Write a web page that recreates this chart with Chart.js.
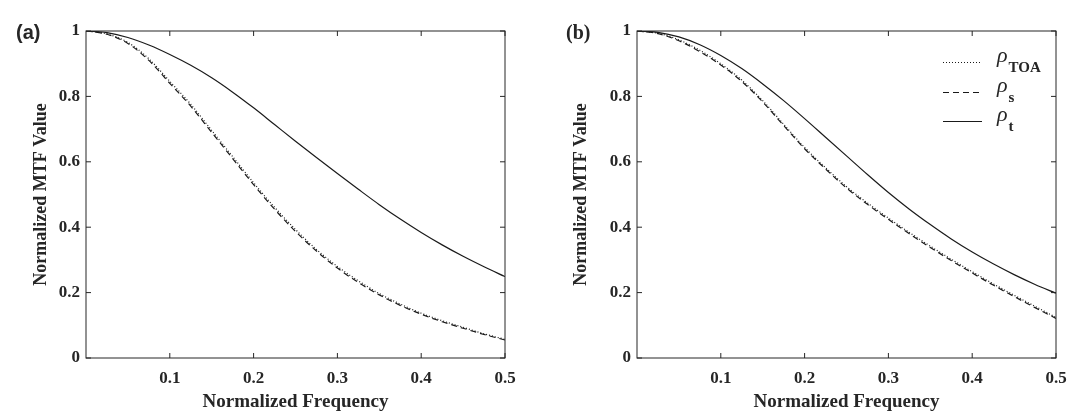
<!DOCTYPE html>
<html>
<head>
<meta charset="utf-8">
<script src="https://cdn.jsdelivr.net/npm/chart.js@4.4.1/dist/chart.umd.min.js"></script>
<style>
  html, body { margin: 0; padding: 0; background: #fff; }
  body { width: 1080px; height: 415px; position: relative; overflow: hidden; font-family: "Liberation Serif", "Times New Roman", serif; color: #262626; }
  .panel { position: absolute; top: 0; width: 540px; height: 415px; }
  .tag { position: absolute; top: 21px; font-size: 20px; font-weight: bold; }
  .legend { position: absolute; left: 943px; top: 0; }
  .row { position: absolute; left: 0; white-space: nowrap; }
  .row svg { position: absolute; left: 0; }
  .row .txt { position: absolute; left: 54px; font-size: 22px; line-height: 20px; font-style: italic; }
  .row sub { font-style: normal; font-weight: bold; font-size: 15px; line-height: 0; vertical-align: -10px; margin-left: 1px; }
</style>
</head>
<body>
<div class="panel" style="left:0"><canvas id="chartA" width="540" height="415"></canvas></div>
<div class="panel" style="left:540px"><canvas id="chartB" width="540" height="415"></canvas></div>
<span class="tag" style="left:16px;font-family:'Liberation Sans',Arial,sans-serif">(a)</span>
<span class="tag" style="left:566px">(b)</span>
<div class="legend" id="legend"></div>

<script>
// Datos
const freq = [0, 0.025, 0.05, 0.075, 0.1, 0.125, 0.15, 0.175, 0.2, 0.225, 0.25,
              0.275, 0.3, 0.325, 0.35, 0.375, 0.4, 0.425, 0.45, 0.475, 0.5];

// (a)
const aToa   = [1.0, 0.991, 0.965, 0.915, 0.846, 0.776, 0.696, 0.616, 0.536, 0.461, 0.393,
                0.332, 0.280, 0.236, 0.197, 0.165, 0.137, 0.114, 0.094, 0.074, 0.057];
const aSurf  = [1.0, 0.990, 0.962, 0.910, 0.840, 0.770, 0.690, 0.610, 0.530, 0.455, 0.387,
                0.327, 0.275, 0.231, 0.193, 0.161, 0.134, 0.111, 0.091, 0.072, 0.055];
const aTotal = [1.0, 0.995, 0.980, 0.957, 0.928, 0.895, 0.857, 0.813, 0.765, 0.714, 0.663,
                0.613, 0.564, 0.516, 0.469, 0.425, 0.384, 0.346, 0.311, 0.279, 0.249];

// (b)
const bToa   = [1.0, 0.993, 0.973, 0.941, 0.900, 0.850, 0.787, 0.715, 0.644, 0.582, 0.524,
                0.474, 0.428, 0.384, 0.342, 0.302, 0.264, 0.227, 0.192, 0.158, 0.124];
const bSurf  = [1.0, 0.992, 0.970, 0.937, 0.896, 0.846, 0.783, 0.711, 0.640, 0.578, 0.520,
                0.470, 0.424, 0.380, 0.338, 0.298, 0.260, 0.223, 0.188, 0.154, 0.121];
const bTotal = [1.0, 0.996, 0.982, 0.958, 0.925, 0.885, 0.838, 0.787, 0.732, 0.675, 0.618,
                0.561, 0.506, 0.455, 0.408, 0.364, 0.324, 0.288, 0.255, 0.225, 0.198];

const xTicks = [0.1, 0.2, 0.3, 0.4, 0.5];
const yTicks = [0, 0.2, 0.4, 0.6, 0.8, 1];
const seriesNames = ['TOA', 's', 't'];

const INK = '#262626';
const SERIF = '"Liberation Serif", "Times New Roman", serif';
const dashes = [[1, 2], [6, 4], []];

// caja con marcas hacia dentro (estilo MATLAB)
const boxTicks = {
  id: 'boxTicks',
  afterDraw(chart) {
    const { ctx, chartArea: ca, scales } = chart;
    const len = 5;
    ctx.save();
    ctx.strokeStyle = INK;
    ctx.lineWidth = 1;
    ctx.setLineDash([]);
    ctx.strokeRect(ca.left, ca.top, ca.right - ca.left, ca.bottom - ca.top);
    ctx.beginPath();
    scales.x.ticks.forEach(t => {
      const px = scales.x.getPixelForValue(t.value);
      ctx.moveTo(px, ca.bottom); ctx.lineTo(px, ca.bottom - len);
      ctx.moveTo(px, ca.top); ctx.lineTo(px, ca.top + len);
    });
    scales.y.ticks.forEach(t => {
      const py = scales.y.getPixelForValue(t.value);
      ctx.moveTo(ca.left, py); ctx.lineTo(ca.left + len, py);
      ctx.moveTo(ca.right, py); ctx.lineTo(ca.right - len, py);
    });
    ctx.stroke();
    ctx.restore();
  }
};

function makeChart(id, series, leftW, rightPad) {
  const datasets = series.map((vals, i) => ({
    label: seriesNames[i],
    data: freq.map((f, k) => ({ x: f, y: vals[k] })),
    borderColor: '#1a1a1a',
    borderWidth: 1.2,
    borderDash: dashes[i],
    pointRadius: 0,
    cubicInterpolationMode: 'monotone',
    fill: false
  }));

  return new Chart(document.getElementById(id), {
    type: 'line',
    data: { datasets },
    options: {
      responsive: false,
      animation: false,
      devicePixelRatio: 1,
      layout: { padding: { top: 31, right: rightPad, left: 0, bottom: 0 } },
      plugins: { legend: { display: false }, tooltip: { enabled: false } },
      scales: {
        x: {
          type: 'linear', min: 0, max: 0.5,
          afterBuildTicks: s => { s.ticks = xTicks.map(v => ({ value: v })); },
          afterFit: s => { s.height = 57; },
          grid: { display: false, drawTicks: false },
          border: { display: false },
          ticks: { color: INK, padding: 10, maxRotation: 0, font: { family: SERIF, size: 17, weight: 'bold' },
                   callback: v => String(v) },
          title: { display: true, text: 'Normalized Frequency', color: INK,
                   font: { family: SERIF, size: 19, weight: 'bold' }, padding: { top: 0, bottom: 2 } }
        },
        y: {
          type: 'linear', min: 0, max: 1,
          afterBuildTicks: s => { s.ticks = yTicks.map(v => ({ value: v })); },
          afterFit: s => { s.width = leftW; },
          grid: { display: false, drawTicks: false },
          border: { display: false },
          ticks: { color: INK, padding: 6, font: { family: SERIF, size: 17, weight: 'bold' },
                   callback: v => String(v) },
          title: { display: true, text: 'Normalized MTF Value', color: INK,
                   font: { family: SERIF, size: 18, weight: 'bold' }, padding: { top: 31, bottom: 0 } }
        }
      }
    },
    plugins: [boxTicks]
  });
}

makeChart('chartA', [aToa, aSurf, aTotal], 86, 35);
makeChart('chartB', [bToa, bSurf, bTotal], 97, 24);

// leyenda (b) con subíndices
const legendRowsY = [62, 92, 121];
const legend = document.getElementById('legend');
seriesNames.forEach((name, i) => {
  const y = legendRowsY[i];
  const row = document.createElement('div');
  row.className = 'row';
  row.style.top = (y - 20) + 'px';
  const dash = dashes[i].length ? dashes[i].join(' ') : 'none';
  row.innerHTML =
    `<svg width="40" height="40" style="top:0"><line x1="0" y1="20.5" x2="39" y2="20.5" stroke="#1a1a1a" stroke-width="1.2" stroke-dasharray="${dash}"/></svg>` +
    `<span class="txt" style="top:3px">ρ<sub>${name}</sub></span>`;
  legend.appendChild(row);
});
</script>
</body>
</html>
